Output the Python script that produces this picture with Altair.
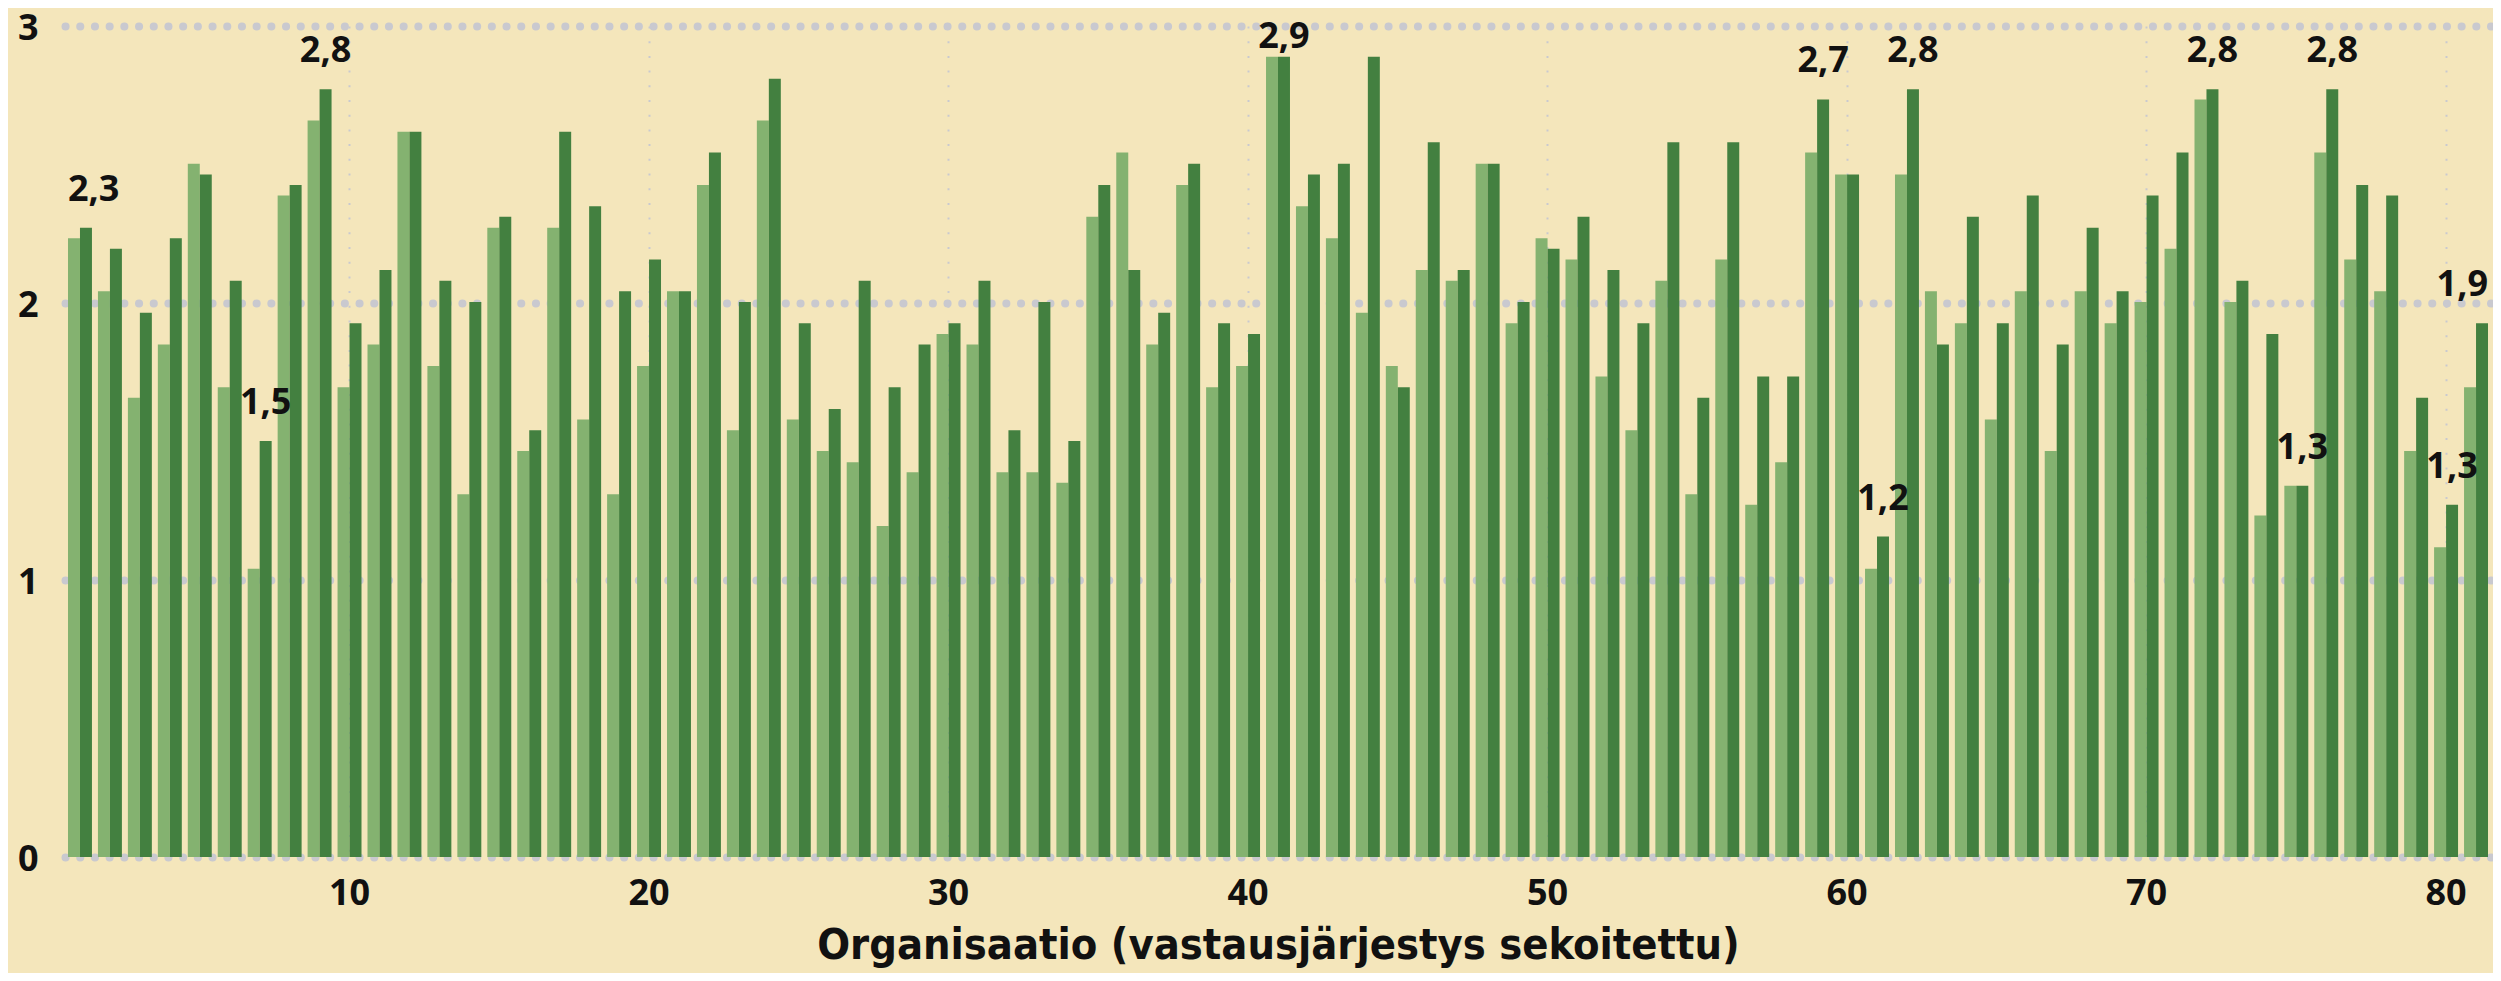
import altair as alt
import pandas as pd

orgs = list(range(1, 82))

light = [2.234, 2.042, 1.658, 1.850, 2.503, 1.696, 1.041, 2.388, 2.659, 1.696,
         1.850, 2.618, 1.773, 1.310, 2.272, 1.466, 2.272, 1.579, 1.310, 1.773,
         2.042, 2.426, 1.541, 2.659, 1.579, 1.466, 1.425, 1.195, 1.389, 1.888,
         1.850, 1.389, 1.389, 1.351, 2.311, 2.543, 1.850, 2.426, 1.696, 1.773,
         2.889, 2.349, 2.234, 1.965, 1.773, 2.119, 2.080, 2.503, 1.927, 2.234,
         2.157, 1.735, 1.541, 2.080, 1.310, 2.157, 1.272, 1.425, 2.543, 2.464,
         1.041, 2.464, 2.042, 1.927, 1.579, 2.042, 1.466, 2.042, 1.927, 2.004,
         2.196, 2.735, 2.004, 1.233, 1.340, 2.543, 2.157, 2.042, 1.466, 1.118,
         1.696]

dark = [2.272, 2.196, 1.965, 2.234, 2.464, 2.080, 1.502, 2.426, 2.772, 1.927,
        2.119, 2.618, 2.080, 2.004, 2.311, 1.541, 2.618, 2.349, 2.042, 2.157,
        2.042, 2.543, 2.004, 2.810, 1.927, 1.617, 2.080, 1.696, 1.850, 1.927,
        2.080, 1.541, 2.004, 1.502, 2.426, 2.119, 1.965, 2.503, 1.927, 1.888,
        2.889, 2.464, 2.503, 2.889, 1.696, 2.580, 2.119, 2.503, 2.004, 2.196,
        2.311, 2.119, 1.927, 2.580, 1.658, 2.580, 1.735, 1.735, 2.735, 2.464,
        1.157, 2.772, 1.850, 2.311, 1.927, 2.388, 1.850, 2.272, 2.042, 2.388,
        2.543, 2.772, 2.080, 1.888, 1.340, 2.772, 2.426, 2.388, 1.658, 1.272,
        1.927]

labelled = [1, 7, 9, 41, 59, 61, 62, 72, 75, 76, 80, 81]

x_ticks = [10, 20, 30, 40, 50, 60, 70, 80]
y_ticks = [0, 1, 2, 3]

series_names = ["A", "B"]
series_colors = ["#84B270", "#438040"]

rows = []
for o, a, b in zip(orgs, light, dark):
    rows.append({"org": o, "series": "A", "value": a})
    rows.append({"org": o, "series": "B", "value": b})
bars_df = pd.DataFrame(rows)

lab_rows = []
for o in labelled:
    v = dark[o - 1]
    lab_rows.append({"org": o, "series": "B", "value": v,
                     "label": f"{v:.1f}".replace(".", ",")})
lab_df = pd.DataFrame(lab_rows)

xscale = alt.Scale(domain=orgs, paddingInner=0.2, paddingOuter=0.1)
yscale = alt.Scale(domain=[0, 3], nice=False)
offscale = alt.Scale(domain=series_names, paddingInner=0, paddingOuter=0)

bars = alt.Chart(bars_df).mark_bar().encode(
    x=alt.X("org:O", scale=xscale,
            axis=alt.Axis(values=x_ticks, labelAngle=0,
                          title="Organisaatio (vastausjärjestys sekoitettu)",
                          grid=True, bandPosition=0.5)),
    xOffset=alt.XOffset("series:N", scale=offscale),
    y=alt.Y("value:Q", scale=yscale,
            axis=alt.Axis(values=y_ticks, title=None, grid=True, format="d")),
    color=alt.Color("series:N", scale=alt.Scale(domain=series_names, range=series_colors), legend=None),
)

label_y = "min(datum.value + 0.0975, 2.92)"

txt_common = dict(fontSize=36, font="Open Sans", fontWeight="bold", color="#111111", baseline="alphabetic")

mid = alt.Chart(lab_df).transform_filter(
    "datum.org > 1 && datum.org < 81"
).transform_calculate(ly=label_y).mark_text(align="center", **txt_common).encode(
    x=alt.X("org:O", scale=xscale),
    xOffset=alt.XOffset("series:N", scale=offscale),
    y=alt.Y("ly:Q", scale=yscale),
    text="label:N",
)

first = alt.Chart(lab_df).transform_filter("datum.org == 1").transform_calculate(
    ly=label_y).mark_text(align="left", **txt_common).encode(
    x=alt.X("org:O", scale=xscale, bandPosition=0),
    y=alt.Y("ly:Q", scale=yscale),
    text="label:N",
)

last = alt.Chart(lab_df).transform_filter("datum.org == 81").transform_calculate(
    ly=label_y).mark_text(align="right", **txt_common).encode(
    x=alt.X("org:O", scale=xscale, bandPosition=1),
    y=alt.Y("ly:Q", scale=yscale),
    text="label:N",
)

chart = alt.layer(bars, mid, first, last).properties(
    width=2426, height=831,
    background="#F4E6BB",
    padding={"left": 57, "top": 18, "right": 2, "bottom": 116},
    autosize=alt.AutoSizeParams(type="none"),
).configure_view(stroke=None).configure_axis(
    domain=False, ticks=False,
    labelFont="Open Sans", labelFontWeight="bold", labelFontSize=36, labelColor="#111111",
    titleFont="Liberation Sans Narrow, DejaVu Sans Condensed, sans-serif", titleFontWeight="bold",
    titleFontSize=43, titleColor="#111111",
).configure_axisY(
    gridColor="#C9C9CF", gridWidth=8, gridCap="round", gridDash=[0.1, 14.6],
    labelPadding=27, labelBaseline="alphabetic", labelOffset=13,
).configure_axisX(
    gridColor="#C9C9CF", gridWidth=2, gridDash=[2, 12.7],
    labelPadding=19, titlePadding=13,
)

chart.save("out.html", embed_options={"renderer": "svg", "actions": False})
